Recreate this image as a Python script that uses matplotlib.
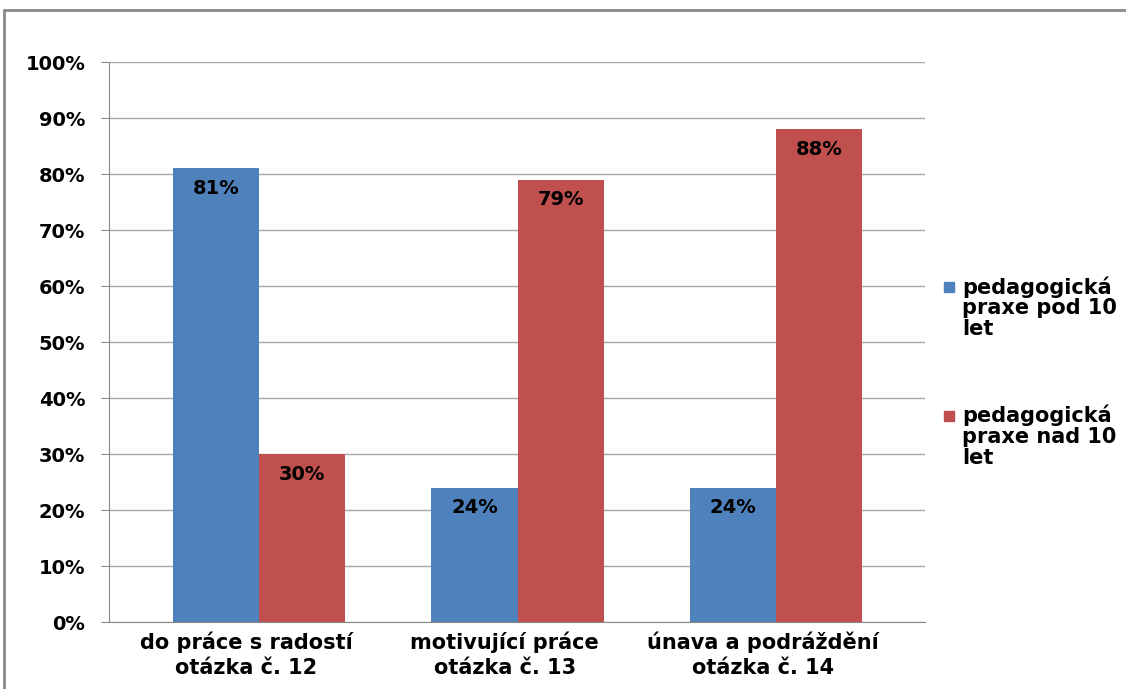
import numpy as np
import matplotlib.pyplot as plt
from matplotlib.patches import Rectangle

categories = ['do práce s radostí\notázka č. 12',
              'motivující práce\notázka č. 13',
              'únava a podráždění\notázka č. 14']
pod_10 = [81, 24, 24]   # pedagogická praxe pod 10 let
nad_10 = [30, 79, 88]   # pedagogická praxe nad 10 let
series_names = ['pedagogická\npraxe pod 10\nlet', 'pedagogická\npraxe nad 10\nlet']
colors = ['#4F81BD', '#C0504D']
yticks = list(range(0, 101, 10))

plt.rcParams['font.family'] = 'DejaVu Sans'
plt.rcParams['font.weight'] = 'bold'

fig = plt.figure(figsize=(11.26, 6.89), dpi=100)
ax = fig.add_axes([0.0968, 0.0972, 0.7247, 0.8128])

x = np.arange(len(categories))
w = 0.333
for i, (vals, off) in enumerate([(pod_10, -w / 2), (nad_10, w / 2)]):
    bars = ax.bar(x + off, vals, w, color=colors[i], zorder=3)
    for b, v in zip(bars, vals):
        ax.annotate(f'{v}%', (b.get_x() + b.get_width() / 2, v),
                    xytext=(0, -14.5), textcoords='offset points',
                    ha='center', va='center', fontsize=14, fontweight='bold', zorder=4)

ax.set_xlim(-0.58, 2.576)
ax.set_ylim(0, 100)
ax.set_yticks(yticks)
ax.set_yticklabels([f'{v}%' for v in yticks], fontsize=14, fontweight='bold')
ax.set_xticks(x - 0.05)
ax.set_xticklabels(categories, fontsize=15, fontweight='bold', linespacing=1.3)
ax.tick_params(axis='x', length=0, pad=7)
ax.tick_params(axis='y', length=6, color='#888888', pad=11)
ax.grid(axis='y', color='#a6a6a6', lw=1, zorder=0)
for s in ['top', 'right']:
    ax.spines[s].set_visible(False)
for s in ['left', 'bottom']:
    ax.spines[s].set_color('#888888')
    ax.spines[s].set_zorder(5)

# legenda
for i, (name, top) in enumerate(zip(series_names, [276, 405])):
    fig.add_artist(Rectangle((944 / 1126, 1 - (top + 16) / 689), 10 / 1126, 10 / 689,
                             transform=fig.transFigure, color=colors[i]))
    fig.text(962 / 1126, 1 - top / 689, name, va='top', ha='left',
             fontsize=15, fontweight='bold', linespacing=1.05)

# rámeček
fig.add_artist(Rectangle((4 / 1126, -0.05), 1.1, 1.0355,
                         transform=fig.transFigure, fill=False, ec='#888888', lw=2))

fig.savefig('out.png', dpi=100)
